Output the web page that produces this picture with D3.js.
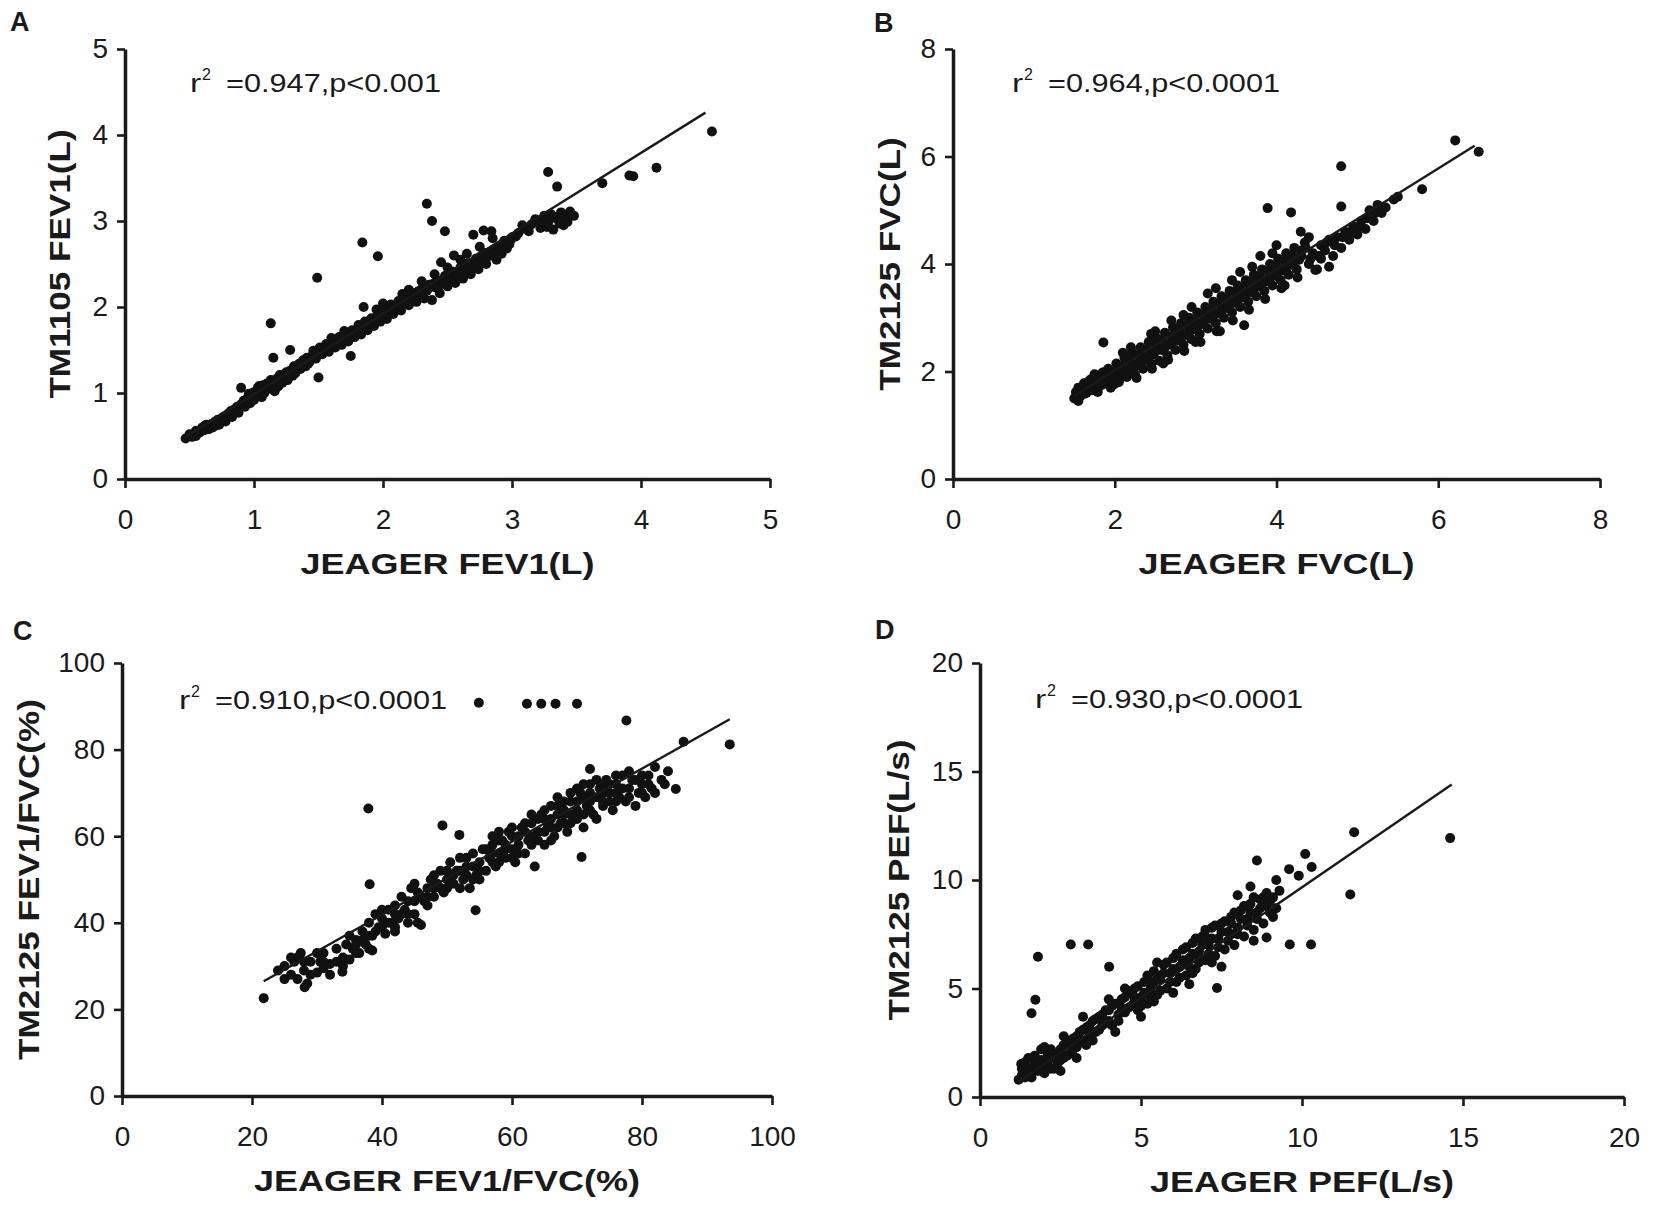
<!DOCTYPE html>
<html>
<head>
<meta charset="utf-8">
<script src="https://cdn.jsdelivr.net/npm/d3@7"></script>
<style>
  body { margin: 0; background: #fff; }
  svg text { font-family: "Liberation Sans", Arial, sans-serif; fill: #1a1a1a; }
</style>
</head>
<body>
<svg id="fig" width="1653" height="1207"></svg>
<script>
// --- DATA ---

// A: FEV1 (L), JEAGER vs TM1105
const fev1Points = [
  [0.47,0.47],[0.50,0.52],[0.52,0.49],[0.55,0.56],[0.58,0.54],[0.60,0.60],[0.62,0.57],[0.63,0.63],[0.65,0.58],[0.67,0.64],
  [0.68,0.60],[0.70,0.67],[0.72,0.69],[0.73,0.63],[0.75,0.71],[0.77,0.73],[0.78,0.67],[0.80,0.76],[0.82,0.79],[0.83,0.72],
  [0.85,0.81],[0.87,0.84],[0.88,0.77],[0.90,0.87],[0.90,1.06],[0.92,0.91],[0.93,0.84],[0.95,0.94],[0.96,0.99],[0.97,0.88],
  [0.98,0.95],[1.00,1.01],[1.00,0.92],[1.02,0.97],[1.03,1.06],[1.05,1.02],[1.06,0.95],[1.07,1.09],[1.08,1.00],[1.10,1.11],
  [1.10,1.04],[1.12,1.07],[1.13,1.15],[1.15,1.10],[1.16,1.02],[1.18,1.17],[1.19,1.08],[1.20,1.21],[1.22,1.12],[1.23,1.19],
  [1.25,1.24],[1.26,1.15],[1.28,1.26],[1.30,1.20],[1.31,1.31],[1.33,1.26],[1.35,1.34],[1.36,1.28],[1.38,1.38],[1.40,1.31],
  [1.41,1.41],[1.43,1.36],[1.45,1.43],[1.46,1.49],[1.48,1.40],[1.50,1.48],[1.51,1.53],[1.53,1.45],[1.55,1.51],[1.56,1.57],
  [1.58,1.48],[1.60,1.56],[1.61,1.61],[1.63,1.53],[1.65,1.59],[1.66,1.65],[1.68,1.56],[1.70,1.63],[1.71,1.69],[1.73,1.60],
  [1.75,1.67],[1.76,1.73],[1.78,1.65],[1.80,1.71],[1.81,1.79],[1.83,1.68],[1.85,1.76],[1.86,1.83],[1.88,1.73],[1.90,1.81],
  [1.91,1.87],[1.93,1.78],[1.95,1.85],[1.96,1.93],[1.98,1.83],[2.00,1.91],[2.01,1.98],[2.03,1.86],[2.05,1.95],[2.06,2.03],
  [2.08,1.92],[2.10,1.99],[2.12,2.07],[2.14,1.96],[2.16,2.04],[2.18,2.11],[2.20,2.02],[2.22,2.09],[2.24,2.16],[2.26,2.06],
  [2.28,2.14],[2.30,2.21],[2.32,2.10],[2.34,2.19],[2.36,2.26],[2.38,2.08],[2.40,2.23],[2.42,2.31],[2.44,2.16],[2.46,2.28],
  [2.48,2.36],[2.50,2.24],[2.52,2.33],[2.54,2.41],[2.56,2.28],[2.58,2.38],[2.60,2.46],[2.62,2.33],[2.64,2.43],[2.66,2.51],
  [2.68,2.38],[2.70,2.49],[2.72,2.56],[2.74,2.44],[2.76,2.54],[2.78,2.63],[2.80,2.50],[2.82,2.59],[2.84,2.88],[2.86,2.67],
  [2.88,2.55],[2.90,2.71],[2.92,2.62],[2.94,2.77],[2.96,2.68],[2.98,2.73],[3.00,2.81],[3.05,2.86],[3.10,2.91],[3.15,2.96],
  [3.20,3.01],[3.22,2.92],[3.25,3.06],[3.28,2.98],[3.30,3.08],[3.32,2.90],[3.35,3.02],[3.38,3.10],[3.40,2.95],[3.42,3.05],
  [3.45,3.11],[3.48,3.06],[2.45,2.52],[2.55,2.60],[2.70,2.84],[2.78,2.89],
  [0.55,0.50],[0.62,0.62],[0.70,0.62],[0.76,0.70],[0.82,0.75],[0.88,0.82],[0.94,0.90],[1.01,0.96],[1.04,1.08],[1.09,1.06],
  [1.14,1.12],[1.17,1.06],[1.21,1.16],[1.27,1.21],[1.32,1.23],[1.37,1.33],[1.42,1.34],[1.47,1.45],[1.52,1.49],[1.57,1.52],
  [1.62,1.58],[1.67,1.61],[1.72,1.66],[1.77,1.70],[1.82,1.74],[1.87,1.79],[1.92,1.84],[1.97,1.88],[2.02,1.93],[2.07,1.98],
  [2.11,2.02],[2.15,2.08],[2.19,2.06],[2.23,2.12],[2.27,2.18],[2.31,2.16],[2.35,2.22],[2.39,2.27],[2.43,2.24],[2.47,2.31],
  [2.51,2.38],[2.55,2.35],[2.59,2.42],[2.63,2.48],[2.67,2.45],[2.71,2.52],[2.75,2.58],[2.79,2.56],[2.83,2.64],[2.87,2.60],
  [2.91,2.66],[2.95,2.72],[2.99,2.78],[3.03,2.82],[3.08,2.95],[3.13,2.88],[3.18,3.02],[3.24,2.98],[3.27,2.93],[3.33,3.05],
  [3.37,2.97],[3.43,2.99],[2.20,2.20],[2.30,2.30],[2.40,2.38],[2.60,2.55],[2.65,2.62],[2.75,2.70],[2.85,2.80],[1.70,1.72],
  [1.60,1.64],[2.00,2.04],[2.50,2.46],[1.95,1.97],[2.15,2.15],
  [1.13,1.81],[1.15,1.41],[1.28,1.50],[1.49,2.34],[1.50,1.18],[1.84,2.75],[1.96,2.59],[1.85,2.00],[1.75,1.43],[2.34,3.20],
  [2.38,3.00],[2.48,2.88],[3.28,3.57],[3.35,3.40],[3.70,3.44],[3.91,3.53],[3.94,3.52],[4.12,3.62],[4.55,4.04]
];
const fev1FitX = [0.47, 4.50];
const fev1FitY = [0.49, 4.26];

// B: FVC (L), JEAGER vs TM2125
const fvcPoints = [
  [1.50,1.50],[1.52,1.62],[1.55,1.70],[1.58,1.55],[1.60,1.65],[1.62,1.78],[1.65,1.60],[1.68,1.72],[1.70,1.85],[1.72,1.65],
  [1.75,1.80],[1.78,1.90],[1.80,1.72],[1.82,1.85],[1.85,1.98],[1.88,1.78],[1.90,1.92],[1.92,2.05],[1.95,1.70],[1.98,1.88],
  [2.00,2.00],[2.02,2.15],[2.05,1.80],[2.08,1.95],[2.10,2.10],[2.12,2.25],[2.15,1.90],[2.18,2.05],[2.20,2.20],[2.22,2.35],
  [2.25,1.95],[2.28,2.12],[2.30,2.30],[2.32,2.45],[2.35,2.05],[2.38,2.22],[2.40,2.40],[2.42,2.55],[2.45,2.15],[2.48,2.32],
  [2.50,2.48],[2.52,2.62],[2.55,2.20],[2.58,2.40],[2.60,2.55],[2.62,2.72],[2.65,2.30],[2.68,2.50],[2.70,2.65],[2.72,2.82],
  [2.75,2.40],[2.78,2.58],[2.80,2.75],[2.82,2.90],[2.85,2.50],[2.88,2.68],[2.90,2.85],[2.92,3.00],[2.95,2.60],[2.98,2.78],
  [3.00,2.95],[3.02,3.10],[3.05,2.70],[3.08,2.88],[3.10,3.05],[3.12,3.20],[3.15,2.80],[3.18,2.98],[3.20,3.15],[3.22,3.30],
  [3.25,2.90],[3.28,3.08],[3.30,3.25],[3.32,3.40],[3.35,3.00],[3.38,3.18],[3.40,3.35],[3.42,3.50],[3.45,3.10],[3.48,3.28],
  [3.50,3.45],[3.52,3.60],[3.55,3.20],[3.58,3.38],[3.60,3.55],[3.62,3.70],[3.65,3.30],[3.68,3.48],[3.70,3.65],[3.72,3.80],
  [3.75,3.40],[3.78,3.58],[3.80,3.75],[3.82,3.90],[3.85,3.50],[3.88,3.68],[3.90,3.85],[3.92,4.00],[3.95,3.60],[3.98,3.78],
  [4.00,3.95],[4.02,4.10],[4.05,3.70],[4.08,3.88],[4.10,4.05],[4.12,4.20],[4.15,3.80],[4.18,3.98],[4.20,4.15],[4.22,4.30],
  [4.25,3.90],[4.28,4.08],[4.30,4.25],[4.35,4.40],[4.40,4.00],[4.45,4.20],[4.50,3.90],[4.55,4.35],[4.60,4.25],[4.65,4.45],
  [4.70,4.15],[4.75,4.50],[4.80,4.30],[4.85,4.60],[4.90,4.45],[4.95,4.70],[5.00,4.55],[5.05,4.80],[5.10,4.65],[5.15,5.00],
  [5.20,4.80],[5.25,5.10],[5.30,4.95],[5.35,5.05],
  [2.20,2.45],[2.45,2.70],[2.70,2.95],[2.95,3.20],[3.15,3.45],[3.45,3.70],[3.70,3.95],[3.95,4.20],[4.30,4.60],[4.40,4.50],
  [2.60,2.15],[3.00,2.55],[3.60,2.86],[4.48,3.89],[4.10,3.60],[3.30,2.75],
  [1.55,1.45],[1.62,1.58],[1.68,1.82],[1.74,1.70],[1.79,1.62],[1.84,1.75],[1.89,2.00],[1.94,1.86],[1.99,1.76],[2.04,2.08],
  [2.07,1.88],[2.13,2.02],[2.17,2.30],[2.23,2.10],[2.27,1.88],[2.31,2.18],[2.36,2.40],[2.41,2.28],[2.46,2.05],[2.51,2.38],
  [2.56,2.58],[2.61,2.42],[2.66,2.22],[2.71,2.55],[2.76,2.78],[2.81,2.62],[2.86,2.38],[2.91,2.72],[2.96,2.95],[3.01,2.80],
  [3.06,2.55],[3.11,2.95],[3.16,3.15],[3.21,3.00],[3.26,2.75],[3.31,3.12],[3.36,3.35],[3.41,3.20],[3.46,2.95],[3.51,3.30],
  [3.56,3.55],[3.61,3.40],[3.66,3.15],[3.71,3.50],[3.76,3.75],[3.81,3.62],[3.86,3.35],[3.91,3.72],[3.96,3.95],[4.01,3.82],
  [4.06,3.55],[4.11,3.92],[4.16,4.12],[4.21,4.00],[4.26,3.75],[4.31,4.15],[4.36,4.30],[4.42,4.10],[4.52,4.15],[4.62,4.40],
  [4.72,4.35],[4.82,4.50],[4.92,4.60],[5.02,4.70],[5.12,4.85],[5.22,4.95],[4.00,4.35],[3.80,4.15],[3.55,3.85],[3.25,3.55],
  [2.85,3.05],[2.50,2.75],[2.10,2.35],[1.75,1.95],[4.55,4.10],[4.65,3.95],
  [1.86,2.54],[3.89,5.04],[4.18,4.96],[4.80,5.82],[4.80,5.07],[5.80,5.39],[6.21,6.30],[6.50,6.09],[5.45,5.20],[5.50,5.25]
];
const fvcFitX = [1.50, 6.45];
const fvcFitY = [1.55, 6.20];

// C: FEV1/FVC (%), JEAGER vs TM2125
const ratioPoints = [
  [24,29],[25,30],[26,28],[26.5,31],[27,27],[27.5,33],[28,29],[28.5,26],[29,31],[30,28.5],
  [30.5,31],[31,29.5],[32,30.5],[33,31],[34,32],[34.5,35],[35,31.5],[35.5,34],[36,36],[36.5,33],
  [37,38],[37.5,35],[38,40],[38.5,37],[39,42],[39.5,39],[40,41],[40.5,37.5],[41,43],[41.5,40],
  [42,44],[42.5,41],[43,46],[43.5,43],[44,45],[44.5,48],[45,42],[45.5,47],[46,39.5],[46.5,45],
  [47,48],[47.5,50],[48,46],[48.5,49],[49,52],[49.5,47],[50,50],[50.5,54],[51,49],[51.5,52],
  [52,55],[52.5,50],[53,53],[53.5,48],[54,56],[54.5,51],[55,54],[55.5,57],[56,52],[56.5,55],
  [57,58],[57.5,53],[58,56],[58.5,59],[59,55],[59.5,61],[60,57],[60.5,54],[61,60],[61.5,62],
  [62,56],[62.5,59],[63,63],[63.5,53],[64,61],[64.5,65],[65,58],[65.5,62],[66,64],[66.5,60],
  [67,67],[67.5,63],[68,65],[68.5,61],[69,68],[69.5,64],[70,66],[70.5,70],[71,62],[71.5,67],
  [72,72],[72.5,65],[73,69],[73.5,71],[74,67],[74.5,73],[75,70],[75.5,66],[76,72],[76.5,69],
  [77,74],[77.5,68],[78,71],[78.5,73],[79,67],[79.5,70],[80,72],[80.5,69],[81,74],[81.5,71],
  [82,76],[83,73],[84,75],[83.5,72],
  [55,52],[57,56],[60,60],[62,61],[65,64],[67,62],[70,68],[72,68],[74,70],[76,70],
  [73,64],[68,66],[66,59],[58,59],[52,52],[48,48],[45,45],[42,42],[40,39],[38,37],
  [36,35],[50,48],[53,51],[63,60],[69,65],[71,69],[75,72],[64,59],[61,58],[59,58],
  [72,75.5],[42,39],[45.5,40],[31,33],[27,32],
  [25,27],[26,32],[28,31],[29,28],[30,33],[31,31],[32,28],[33,34],[34,30],[35,37],
  [36,33],[37,36],[38,34],[39,38],[40,43],[41,40],[42,38],[43,42],[44,42],[45,49],
  [46,46],[47,44],[48,51],[49,48],[50,52],[51,51],[52,48],[53,55],[54,53],[55,50],
  [56,57],[57,54],[58,61],[59,57],[60,62],[61,56],[62,63],[63,58],[64,64],[65,61],
  [66,67],[67,65],[68,63],[69,70],[70,64],[71,72],[72,70],[73,73],[74,72],[75,68],
  [76,74],[77,71],[78,75],[79,73],[80,70],[81,72],[82,70],[65,66],[67,69],[69,63],
  [71,65],[60,55],[63,65],[57,60],[54,50],[47,46],[44,40],[58,54],[66,62],[68,68],
  [70,71],[72,66],[74,68],[76,68],[78,69],[80,74],
  [21.8,22.6],[37.9,66.4],[38.1,48.9],[49.3,62.5],[51.9,60.3],[54.4,42.9],[54.9,90.8],[62.3,90.6],[64.5,90.6],[66.7,90.6],
  [70.0,90.6],[77.6,86.7],[86.4,81.8],[93.5,81.2],[85.2,70.9],[70.7,55.2],[33.9,28.7],[28.1,25.1],[38.5,33.6]
];
const ratioFitX = [21.8, 93.5];
const ratioFitY = [26.5, 87.0];

// D: PEF (L/s), JEAGER vs TM2125
const pefPoints = [
  [1.2,0.8],[1.3,1.0],[1.4,0.9],[1.5,1.3],[1.6,1.1],[1.7,1.5],[1.8,1.2],[1.9,1.7],[2.0,1.4],[2.1,2.0],
  [2.2,1.3],[2.3,1.8],[2.4,1.5],[2.5,2.2],[2.6,1.8],[2.7,2.5],[2.8,2.0],[2.9,2.7],[3.0,2.3],[3.1,3.0],
  [3.2,2.6],[3.3,3.2],[3.4,2.8],[3.5,3.5],[3.6,3.0],[3.7,3.7],[3.8,3.3],[3.9,4.0],[4.0,3.5],[4.1,4.2],
  [4.2,3.0],[4.3,3.8],[4.4,4.5],[4.5,3.9],[4.6,4.8],[4.7,4.2],[4.8,5.0],[4.9,4.0],[5.0,4.6],[5.1,5.3],
  [5.2,4.3],[5.3,5.0],[5.4,5.8],[5.5,4.7],[5.6,5.4],[5.7,6.1],[5.8,5.0],[5.9,5.7],[6.0,6.4],[6.1,5.3],
  [6.2,6.0],[6.3,6.8],[6.4,5.6],[6.5,6.4],[6.6,7.1],[6.7,5.9],[6.8,6.7],[6.9,7.4],[7.0,6.3],[7.1,7.0],
  [7.2,7.8],[7.3,6.5],[7.4,7.3],[7.5,8.0],[7.6,6.8],[7.7,7.6],[7.8,8.3],[7.9,7.0],[8.0,7.8],[8.1,8.6],
  [8.2,7.4],[8.3,8.2],[8.4,8.9],[8.5,7.7],[8.6,8.5],[8.7,9.1],[8.8,8.0],[8.9,8.8],[9.0,9.0],[9.1,8.3],
  [9.2,8.7],
  [2.0,2.3],[2.5,1.2],[3.0,1.8],[3.5,2.6],[4.0,4.5],[4.5,5.0],[5.0,3.7],[5.5,6.2],[6.0,4.8],[6.5,5.2],
  [7.0,7.7],[7.5,6.0],[8.0,9.3],[3.2,3.7],[2.6,2.8],[1.9,2.2],[1.5,1.8],[4.8,4.4],[5.2,5.6],[6.8,6.2],
  [6.3,6.3],[7.8,7.5],[8.8,9.2],[9.3,9.5],[9.6,10.5],[9.9,10.2],[10.3,10.6],[10.1,11.2],[8.6,10.9],[8.4,9.7],
  [9.2,10.0],
  [1.3,1.3],[1.4,1.6],[1.6,0.9],[1.7,1.9],[1.8,1.6],[2.0,1.1],[2.1,1.6],[2.2,2.2],[2.3,1.3],[2.4,2.0],
  [2.5,1.7],[2.6,2.4],[2.7,1.9],[2.8,2.6],[2.9,2.2],[3.0,2.8],[3.1,2.5],[3.2,3.1],[3.3,2.4],[3.4,3.3],
  [3.5,3.0],[3.6,3.6],[3.7,3.1],[3.8,3.8],[3.9,3.4],[4.0,4.0],[4.1,3.3],[4.2,4.3],[4.3,3.5],[4.4,4.1],
  [4.5,4.6],[4.6,4.1],[4.7,4.9],[4.8,4.6],[4.9,5.1],[5.0,4.2],[5.1,4.8],[5.2,5.4],[5.3,4.6],[5.4,5.3],
  [5.5,5.6],[5.6,4.9],[5.7,5.7],[5.8,6.2],[5.9,5.3],[6.0,5.9],[6.1,6.6],[6.2,5.5],[6.3,6.2],[6.4,6.9],
  [6.5,6.0],[6.6,6.6],[6.7,7.3],[6.8,6.4],[6.9,7.0],[7.0,7.4],[7.1,6.6],[7.2,7.3],[7.3,7.9],[7.4,6.9],
  [7.5,7.6],[7.6,8.1],[7.7,7.2],[7.8,8.0],[7.9,8.5],[8.0,7.5],[8.1,8.2],[8.2,8.8],[8.3,7.9],[8.4,8.5],
  [8.5,9.2],[8.6,8.2],[8.7,8.7],[8.9,9.4],[9.0,8.5],[9.1,9.2],[8.8,8.9],[5.4,4.4],[6.6,5.7],[7.2,6.2],
  [1.8,6.46],[1.72,4.48],[1.6,3.86],[2.82,7.03],[3.36,7.03],[4.01,6.0],[7.36,5.02],[11.62,12.2],[11.5,9.33],[14.6,11.93],
  [9.62,7.03],[10.28,7.03],[8.5,7.2],[8.9,7.35],[1.28,1.52]
];
const pefFitX = [1.20, 14.65];
const pefFitY = [0.70, 14.40];

const panelLetters = ["A", "B", "C", "D"];
const xTitles = ["JEAGER FEV1(L)", "JEAGER FVC(L)", "JEAGER FEV1/FVC(%)", "JEAGER PEF(L/s)"];
const yTitles = ["TM1105 FEV1(L)", "TM2125 FVC(L)", "TM2125 FEV1/FVC(%)", "TM2125 PEF(L/s)"];
const axisMax = [5, 8, 100, 20];
const tickValues = [[0, 1, 2, 3, 4, 5], [0, 2, 4, 6, 8], [0, 20, 40, 60, 80, 100], [0, 5, 10, 15, 20]];
const r2Values = ["0.947", "0.964", "0.910", "0.930"];
const pValues = ["p<0.001", "p<0.0001", "p<0.0001", "p<0.0001"];

const allPoints = [fev1Points, fvcPoints, ratioPoints, pefPoints];
const allFitX = [fev1FitX, fvcFitX, ratioFitX, pefFitX];
const allFitY = [fev1FitY, fvcFitY, ratioFitY, pefFitY];

// --- LAYOUT (pixel frame of each panel) ---
const layout = [
  { left: 125, right: 770,  top: 49,  bottom: 479,  letterX: 10,  letterY: 31,  noteX: 190,  noteY: 92,  yTitleX: 70 },
  { left: 953, right: 1600, top: 49,  bottom: 479,  letterX: 874, letterY: 32,  noteX: 1012, noteY: 92,  yTitleX: 900 },
  { left: 122, right: 772,  top: 663, bottom: 1096, letterX: 13,  letterY: 640, noteX: 179,  noteY: 709, yTitleX: 39 },
  { left: 980, right: 1624, top: 663, bottom: 1097, letterX: 875, letterY: 639, noteX: 1035, noteY: 708, yTitleX: 909 }
];

const svg = d3.select("#fig");
const ink = "#1a1a1a";

// stretch a text along its own direction (the figure's lettering is wide)
function widen(sel, factor) {
  sel.each(function() {
    var w = this.getComputedTextLength();
    d3.select(this).attr("textLength", w * factor).attr("lengthAdjust", "spacingAndGlyphs");
  });
}

layout.forEach(function(L, i) {
  var g = svg.append("g");

  var x = d3.scaleLinear().domain([0, axisMax[i]]).range([L.left, L.right]);
  var y = d3.scaleLinear().domain([0, axisMax[i]]).range([L.bottom, L.top]);

  // axes
  var xAxis = g.append("g")
    .attr("transform", "translate(0," + L.bottom + ")")
    .call(d3.axisBottom(x).tickValues(tickValues[i]).tickFormat(d3.format("d"))
      .tickSize(9).tickSizeOuter(0).tickPadding(21));
  var yAxis = g.append("g")
    .attr("transform", "translate(" + L.left + ",0)")
    .call(d3.axisLeft(y).tickValues(tickValues[i]).tickFormat(d3.format("d"))
      .tickSize(8).tickSizeOuter(0).tickPadding(9));

  [xAxis, yAxis].forEach(function(ax) {
    ax.select(".domain").attr("stroke", ink).attr("stroke-width", 3.5);
    ax.selectAll(".tick line").attr("stroke", ink).attr("stroke-width", 2.6);
    ax.selectAll(".tick text")
      .style("font-size", "28px")
      .style("font-family", '"Liberation Sans", Arial, sans-serif')
      .attr("fill", ink);
  });

  // points
  g.append("g").selectAll("circle")
    .data(allPoints[i])
    .enter()
    .append("circle")
    .attr("cx", d => x(d[0]))
    .attr("cy", d => y(d[1]))
    .attr("r", 5)
    .attr("fill", "#111");

  // regression line
  var fit = allFitX[i].map((v, k) => [v, allFitY[i][k]]);
  g.append("path")
    .datum(fit)
    .attr("d", d3.line().x(d => x(d[0])).y(d => y(d[1])))
    .attr("fill", "none")
    .attr("stroke", ink)
    .attr("stroke-width", 2.4);

  // panel letter
  g.append("text")
    .attr("x", L.letterX)
    .attr("y", L.letterY)
    .style("font-size", "27px")
    .style("font-weight", "bold")
    .text(panelLetters[i]);

  // r^2 note
  g.append("text")
    .attr("x", L.noteX)
    .attr("y", L.noteY)
    .style("font-size", "26px")
    .text("r")
    .call(widen, 1.3);
  g.append("text")
    .attr("x", L.noteX + 12)
    .attr("y", L.noteY - 12)
    .style("font-size", "16px")
    .text("2");
  g.append("text")
    .attr("x", L.noteX + 36)
    .attr("y", L.noteY)
    .style("font-size", "26px")
    .text("=" + r2Values[i] + "," + pValues[i])
    .call(widen, 1.18);

  // axis titles
  g.append("text")
    .attr("x", (L.left + L.right) / 2)
    .attr("y", L.bottom + 95)
    .attr("text-anchor", "middle")
    .style("font-size", "30px")
    .style("font-weight", "bold")
    .text(xTitles[i])
    .call(widen, 1.2);

  g.append("text")
    .attr("transform", "translate(" + L.yTitleX + "," + ((L.top + L.bottom) / 2) + ") rotate(-90)")
    .attr("text-anchor", "middle")
    .style("font-size", "30px")
    .style("font-weight", "bold")
    .text(yTitles[i])
    .call(widen, 1.17);
});
</script>
</body>
</html>
